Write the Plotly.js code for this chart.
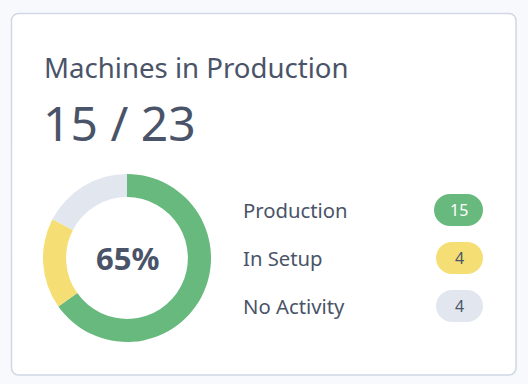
<!DOCTYPE html>
<html>
<head>
<meta charset="utf-8">
<script src="https://cdn.plot.ly/plotly-3.0.1.min.js"></script>
<style>
html,body{margin:0;padding:0;background:#f7f9fc;}
#chart{width:528px;height:384px;}
</style>
</head>
<body>
<div id="chart"></div>
<script>
// ---- data ----
const categories = ["Production", "In Setup", "No Activity"];
const counts = [15, 4, 4];
const sliceColors = ["#68b97d", "#f5df75", "#e2e7ef"];
const pillTextColors = ["#ffffff", "#4a5568", "#4a5568"];
const titleText = "Machines in Production";

const total = counts.reduce((a, b) => a + b, 0);
const pct = Math.round(100 * counts[0] / total);

const W = 528, H = 384;
const textColor = "#4a5468";
const font = "Noto Sans, Open Sans, sans-serif";

function roundRect(x0, y0, x1, y1, r) {
  const k = 0.5523 * r;
  return `M ${x0 + r} ${y0} L ${x1 - r} ${y0} ` +
    `C ${x1 - r + k} ${y0} ${x1} ${y0 + r - k} ${x1} ${y0 + r} ` +
    `L ${x1} ${y1 - r} ` +
    `C ${x1} ${y1 - r + k} ${x1 - r + k} ${y1} ${x1 - r} ${y1} ` +
    `L ${x0 + r} ${y1} ` +
    `C ${x0 + r - k} ${y1} ${x0} ${y1 - r + k} ${x0} ${y1 - r} ` +
    `L ${x0} ${y0 + r} ` +
    `C ${x0} ${y0 + r - k} ${x0 + r - k} ${y0} ${x0 + r} ${y0} Z`;
}

const shapes = [{
  type: "path", xref: "x", yref: "y",
  path: roundRect(11.5, 13.5, 516, 375, 7),
  fillcolor: "#ffffff", line: {color: "#cfd8e3", width: 1.5}, layer: "below"
}];

const annotations = [
  {x: 42, y: 67, text: titleText, xanchor: "left", yanchor: "middle",
   font: {family: font, size: 27.6, color: textColor}},
  {x: 41, y: 122, text: `${counts[0]} / ${total}`, xanchor: "left", yanchor: "middle",
   font: {family: font, size: 48, color: textColor}},
  {x: 127, y: 258, text: `<b>${pct}%</b>`, xanchor: "center", yanchor: "middle",
   font: {family: font, size: 31, color: textColor}}
];

const rowY = [210, 258, 306];
const pillX = [434, 436, 436];
categories.forEach((c, i) => {
  annotations.push({x: 241, y: rowY[i], text: c, xanchor: "left", yanchor: "middle",
    font: {family: font, size: 20.3, color: textColor}});
  shapes.push({type: "path", xref: "x", yref: "y",
    path: roundRect(pillX[i], rowY[i] - 16, 483, rowY[i] + 16, 16),
    fillcolor: sliceColors[i], line: {width: 0}, layer: "below"});
  annotations.push({x: (pillX[i] + 483) / 2, y: rowY[i], text: String(counts[i]),
    xanchor: "center", yanchor: "middle",
    font: {family: font, size: 16, color: pillTextColors[i]}});
});

const data = [{
  type: "pie",
  labels: categories,
  values: counts,
  marker: {colors: sliceColors, line: {width: 0}},
  hole: 0.725,
  sort: false,
  direction: "clockwise",
  rotation: 0,
  textinfo: "none",
  hoverinfo: "skip",
  showlegend: false,
  domain: {x: [43 / W, 211 / W], y: [1 - 342 / H, 1 - 174 / H]}
}];

const layout = {
  width: W, height: H,
  margin: {l: 0, r: 0, t: 0, b: 0},
  paper_bgcolor: "#f7f9fc",
  plot_bgcolor: "rgba(0,0,0,0)",
  xaxis: {range: [0, W], visible: false, fixedrange: true},
  yaxis: {range: [H, 0], visible: false, fixedrange: true},
  shapes: shapes,
  annotations: annotations.map(a => Object.assign({xref: "x", yref: "y", showarrow: false}, a)),
  showlegend: false
};

Plotly.newPlot("chart", data, layout, {displayModeBar: false, staticPlot: true});
</script>
</body>
</html>
